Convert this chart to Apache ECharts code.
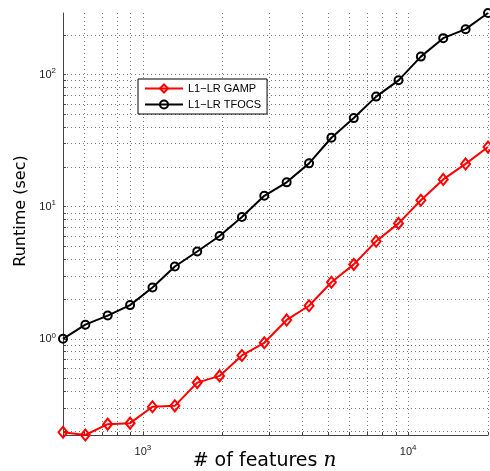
<!DOCTYPE html>
<html>
<head>
<meta charset="utf-8">
<script src="https://cdn.jsdelivr.net/npm/echarts@6/dist/echarts.min.js"></script>
<style>
  html, body { margin: 0; padding: 0; background: #fff; }
  #chart { width: 490px; height: 471px; }
</style>
</head>
<body>
<div id="chart"></div>
<script>
// number of features n (log spaced, 500 .. 20000)
const nValues = [500, 607, 737, 895, 1087, 1320, 1603, 1946, 2363, 2869,
  3484, 4231, 5137, 6238, 7574, 9197, 11167, 13560, 16465, 20000]
// runtime in seconds
const gampRuntime = [0.196, 0.187, 0.226, 0.230, 0.306, 0.311, 0.466, 0.524, 0.748, 0.933,
  1.39, 1.78, 2.68, 3.66, 5.48, 7.48, 11.2, 16.1, 21.1, 28.3]
const tfocsRuntime = [1.0, 1.28, 1.50, 1.80, 2.45, 3.53, 4.58, 6.0, 8.35, 12.1,
  15.3, 21.3, 33.3, 46.9, 68.2, 90.6, 137, 189, 221, 293]

const seriesNames = ['L1\u2212LR GAMP', 'L1\u2212LR TFOCS']
const xMajorTicks = [1000, 10000]
const yMajorTicks = [1, 10, 100]
const xGridTicks = [600, 700, 800, 900, 1000, 2000, 3000, 4000, 5000, 6000, 7000, 8000, 9000, 10000, 20000]
const yGridTicks = [0.2, 0.3, 0.4, 0.5, 0.6, 0.7, 0.8, 0.9, 1, 2, 3, 4, 5, 6, 7, 8, 9,
  10, 20, 30, 40, 50, 60, 70, 80, 90, 100, 200]

const font = '"Liberation Sans", Arial, Helvetica, sans-serif'
const titleFont = '"DejaVu Sans", sans-serif'

function powLabel(v) {
  const e = Math.round(Math.log10(v))
  return '{b|10}{e|' + e + '}'
}

const labelRich = {
  b: { fontFamily: font, fontSize: 11, color: '#222' },
  e: { fontFamily: font, fontSize: 8, color: '#222', verticalAlign: 'bottom', padding: [0, 0, 7, 0] }
}

const gridLine = {
  show: true,
  lineStyle: { color: '#777', width: 1, type: [1, 3] }
}

const chart = echarts.init(document.getElementById('chart'))

chart.setOption({
  animation: false,
  backgroundColor: '#fff',
  grid: { left: 63, right: 2, top: 13, bottom: 36, containLabel: false, outerBoundsMode: 'none' },
  legend: {
    data: seriesNames,
    orient: 'vertical',
    left: 138,
    top: 79,
    backgroundColor: '#fff',
    borderColor: '#000',
    borderWidth: 1,
    borderRadius: 0,
    padding: [4, 6, 4, 6],
    itemWidth: 38,
    itemHeight: 10,
    itemGap: 5,
    textStyle: { fontFamily: font, fontSize: 11, color: '#000' }
  },
  xAxis: {
    type: 'log',
    min: nValues[0],
    max: nValues[nValues.length - 1],
    name: '# of features {i|n}',
    nameLocation: 'middle',
    nameGap: 16,
    nameMoveOverlap: false,
    nameTextStyle: {
      fontFamily: titleFont,
      fontSize: 19,
      color: '#000',
      padding: [0, 22, 0, 0],
      rich: { i: { fontFamily: '"DejaVu Serif", serif', fontStyle: 'italic', fontSize: 20, color: '#000' } }
    },
    axisLine: { show: true, lineStyle: { color: '#444', width: 1 } },
    axisTick: { show: true, inside: true, length: 3, customValues: xGridTicks, lineStyle: { color: '#444' } },
    axisLabel: { customValues: xMajorTicks, formatter: powLabel, rich: labelRich, margin: 9 },
    splitLine: gridLine,
    minorTick: { show: false },
    minorSplitLine: { show: false }
  },
  yAxis: {
    type: 'log',
    min: Math.min(...gampRuntime),
    max: Math.max(...tfocsRuntime),
    name: 'Runtime (sec)',
    nameLocation: 'middle',
    nameGap: 34,
    nameMoveOverlap: false,
    nameTextStyle: { fontFamily: titleFont, fontSize: 16, color: '#000', padding: [0, 0, 0, 26] },
    axisLine: { show: true, lineStyle: { color: '#444', width: 1 } },
    axisTick: { show: true, inside: true, length: 3, customValues: yGridTicks, lineStyle: { color: '#444' } },
    axisLabel: { customValues: yMajorTicks, formatter: powLabel, rich: labelRich, margin: 7 },
    splitLine: gridLine,
    minorTick: { show: false },
    minorSplitLine: { show: false }
  },
  series: [
    {
      name: seriesNames[0],
      type: 'line',
      data: nValues.map((n, i) => [n, gampRuntime[i]]),
      symbol: 'diamond',
      symbolSize: [9, 11],
      showAllSymbol: true,
      lineStyle: { color: '#ff0000', width: 2 },
      itemStyle: { color: 'transparent', borderColor: '#ff0000', borderWidth: 2 },
      emphasis: { disabled: true },
      z: 3
    },
    {
      name: seriesNames[1],
      type: 'line',
      data: nValues.map((n, i) => [n, tfocsRuntime[i]]),
      symbol: 'circle',
      symbolSize: 8,
      showAllSymbol: true,
      lineStyle: { color: '#000', width: 2 },
      itemStyle: { color: 'transparent', borderColor: '#000', borderWidth: 2 },
      emphasis: { disabled: true },
      z: 3
    }
  ]
})
</script>
</body>
</html>
